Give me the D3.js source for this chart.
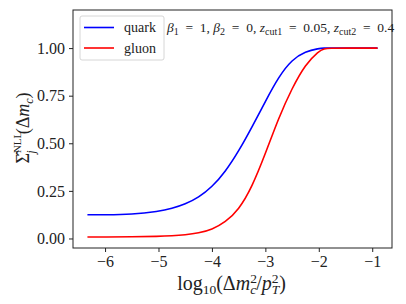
<!DOCTYPE html>
<html>
<head>
<meta charset="utf-8">
<script src="https://cdn.jsdelivr.net/npm/d3@7"></script>
<style>
  body { margin: 0; background: white; }
  text { font-family: "Liberation Serif", "DejaVu Serif", serif; }
</style>
</head>
<body>
<svg></svg>
<script>
const [WIDTH, HEIGHT] = [406, 304]
const margin = { left: 73, top: 10, right: 14, bottom: 56 }

// log10(dm^2/pT^2) sample points and the two cumulative distributions
const logX  = [-6.33, -6.0, -5.5, -5.0, -4.75, -4.5, -4.25, -4.0, -3.75, -3.5, -3.25, -3.0, -2.75, -2.5, -2.25, -2.0, -1.9, -1.8, -1.5, -1.0, -0.9]
const quark = [0.125, 0.124, 0.126, 0.142, 0.157, 0.180, 0.215, 0.270, 0.350, 0.458, 0.585, 0.720, 0.850, 0.940, 0.982, 0.998, 1.0, 1.0, 1.0, 1.0, 1.0]
const gluon = [0.008, 0.008, 0.009, 0.011, 0.014, 0.019, 0.028, 0.047, 0.085, 0.150, 0.270, 0.445, 0.635, 0.790, 0.915, 0.985, 0.997, 1.0, 1.0, 1.0, 1.0]

const xTicks = [-6, -5, -4, -3, -2, -1]
const yTicks = [0, 0.25, 0.5, 0.75, 1.0]
const seriesNames = ['quark', 'gluon']
const seriesColors = ['#0000ff', '#ff0000']

const svg = d3.select('svg').attr('width', WIDTH).attr('height', HEIGHT)

const x = d3.scaleLinear().domain([-6.6, -0.63]).range([margin.left, WIDTH - margin.right])
const y = d3.scaleLinear().domain([-0.05, 1.2]).range([HEIGHT - margin.bottom, margin.top])

// axes
const xAxis = svg.append('g')
    .attr('transform', `translate(0,${HEIGHT - margin.bottom})`)
    .call(d3.axisBottom(x).tickValues(xTicks).tickSize(4).tickPadding(4)
        .tickFormat(d => '\u2212' + Math.abs(d)))
const yAxis = svg.append('g')
    .attr('transform', `translate(${margin.left},0)`)
    .call(d3.axisLeft(y).tickValues(yTicks).tickSize(4).tickPadding(4)
        .tickFormat(d3.format('.2f')))

for (const ax of [xAxis, yAxis]) {
    ax.attr('font-family', null)
    ax.select('.domain').remove()
    ax.selectAll('text').attr('font-size', 16).attr('fill', '#222')
    ax.selectAll('line').attr('stroke', '#222')
}

svg.append('rect')
    .attr('x', margin.left).attr('y', margin.top)
    .attr('width', WIDTH - margin.left - margin.right)
    .attr('height', HEIGHT - margin.top - margin.bottom)
    .attr('fill', 'none').attr('stroke', '#222').attr('stroke-width', 1)

// curves (basis spline keeps the sampled shape smooth)
const line = d3.line().x(d => x(d[0])).y(d => y(d[1])).curve(d3.curveBasis)
const series = [quark, gluon]
series.forEach((vals, i) => {
    svg.append('path')
        .datum(logX.map((lx, j) => [lx, vals[j]]))
        .attr('d', line)
        .attr('fill', 'none')
        .attr('stroke', seriesColors[i])
        .attr('stroke-width', 1.6)
})

// legend
const legend = svg.append('g')
legend.append('rect')
    .attr('x', 80).attr('y', 16).attr('width', 84).attr('height', 44).attr('rx', 2)
    .attr('fill', 'white').attr('fill-opacity', 0.8)
    .attr('stroke', '#ccc').attr('stroke-width', 0.8)
seriesNames.forEach((name, i) => {
    const ly = 27.5 + i * 20.5
    legend.append('line')
        .attr('x1', 84).attr('x2', 114).attr('y1', ly).attr('y2', ly)
        .attr('stroke', seriesColors[i]).attr('stroke-width', 1.6)
    legend.append('text')
        .attr('x', 124).attr('y', ly + 4.5)
        .attr('font-size', 14).attr('fill', '#222')
        .text(name)
})

// parameter annotation
const ann = svg.append('text').attr('x', 167).attr('y', 32).attr('font-size', 13.5).attr('fill', '#222')
const eq = '\u2002=\u2002'
const annParts = [
    ['β', 'i'], ['1', 'sub'], [eq + '1, ', ''], ['β', 'i'], ['2', 'sub'], [eq + '0, ', ''],
    ['z', 'i'], ['cut1', 'sub'], [eq + '0.05, ', ''], ['z', 'i'], ['cut2', 'sub'], [eq + '0.4', '']
]
let shifted = false
for (const [t, kind] of annParts) {
    const ts = ann.append('tspan').text(t)
    if (kind === 'i') ts.attr('font-style', 'italic')
    if (kind === 'sub') { ts.attr('font-size', 10).attr('dy', 3); shifted = true }
    else if (shifted) { ts.attr('dy', -3); shifted = false }
}

// x label
const xl = svg.append('text')
    .attr('x', 231.5).attr('y', 290).attr('text-anchor', 'middle')
    .attr('font-size', 20).attr('fill', '#222')
xl.append('tspan').text('log')
xl.append('tspan').text('10').attr('font-size', 13.5).attr('dy', 4)
xl.append('tspan').text('(Δ').attr('dy', -4)
xl.append('tspan').text('m').attr('font-style', 'italic')
xl.append('tspan').text('2').attr('font-size', 13.5).attr('dy', -7)
xl.append('tspan').text('c').attr('font-size', 13.5).attr('font-style', 'italic').attr('dx', -6.8).attr('dy', 11)
xl.append('tspan').text('/').attr('dy', -4)
xl.append('tspan').text('p').attr('font-style', 'italic')
xl.append('tspan').text('2').attr('font-size', 13.5).attr('dy', -7)
xl.append('tspan').text('T').attr('font-size', 13.5).attr('font-style', 'italic').attr('dx', -6.8).attr('dy', 11)
xl.append('tspan').text(')').attr('dy', -4)

// y label
const yl = svg.append('text')
    .attr('transform', 'translate(29,128) rotate(-90)')
    .attr('text-anchor', 'middle')
    .attr('font-size', 18).attr('fill', '#222')
yl.append('tspan').text('Σ\u0302')
yl.append('tspan').text('NLL').attr('font-size', 11).attr('dy', -8)
yl.append('tspan').text('j').attr('font-size', 12).attr('font-style', 'italic').attr('dx', -22).attr('dy', 14)
yl.append('tspan').text('(Δ').attr('dx', 16).attr('dy', -6)
yl.append('tspan').text('m').attr('font-style', 'italic')
yl.append('tspan').text('c').attr('font-size', 12).attr('font-style', 'italic').attr('dy', 4)
yl.append('tspan').text(')').attr('dy', -4)
</script>
</body>
</html>
